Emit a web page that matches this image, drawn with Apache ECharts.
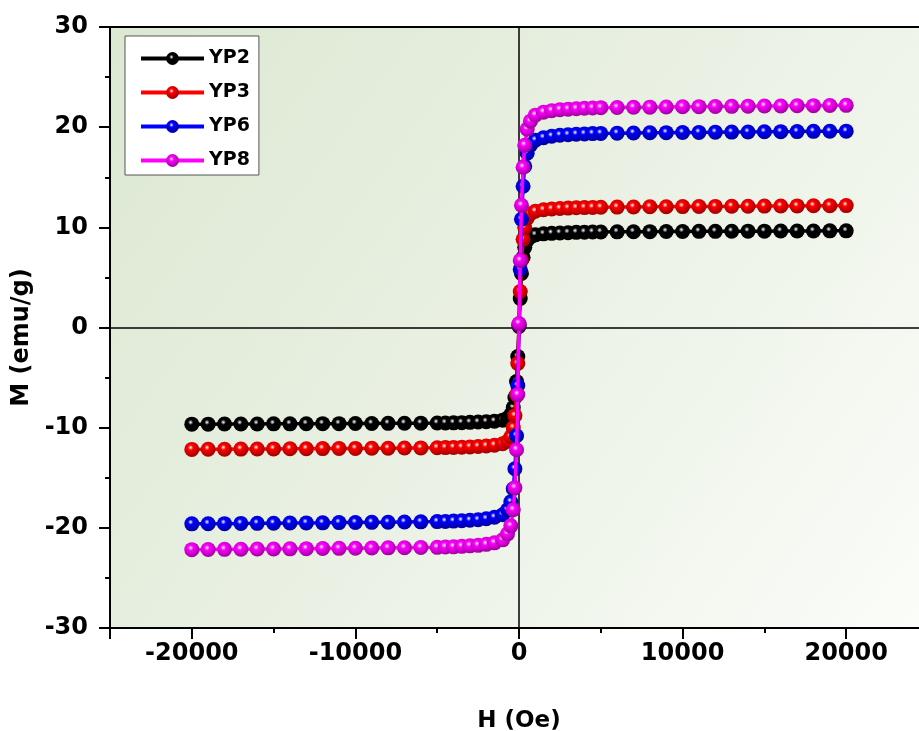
<!DOCTYPE html>
<html lang="en">
<head>
    <meta charset="UTF-8">
    <title>M-H</title>
    <script src="https://cdn.jsdelivr.net/npm/echarts@6/dist/echarts.min.js"></script>
    <style>
        html, body { margin: 0; padding: 0; background: #fff; }
    </style>
</head>
<body>
<div id="main" style="width: 919px;height:731px;"></div>
<script type="text/javascript">
    // field H (Oe), shared by all samples
    var H = [
        -20000, -19000, -18000, -17000, -16000, -15000, -14000, -13000, -12000, -11000,
        -10000, -9000, -8000, -7000, -6000, -5000, -4500, -4000, -3500, -3000,
        -2500, -2000, -1500, -1000, -700, -500, -350, -250, -150, -75,
        0,
        75, 150, 250, 350, 500, 700, 1000, 1500, 2000, 2500,
        3000, 3500, 4000, 4500, 5000, 6000, 7000, 8000, 9000, 10000,
        11000, 12000, 13000, 14000, 15000, 16000, 17000, 18000, 19000, 20000
    ];

    // magnetisation M (emu/g)
    var YP2 = [
        -9.65, -9.65, -9.64, -9.64, -9.63, -9.62, -9.62, -9.61, -9.6, -9.6,
        -9.59, -9.58, -9.57, -9.56, -9.55, -9.54, -9.53, -9.52, -9.5, -9.47,
        -9.44, -9.4, -9.35, -9.25, -9.05, -8.7, -8.0, -7.0, -5.4, -2.9,
        0.1,
        2.9, 5.4, 7.0, 8.0, 8.7, 9.05, 9.25, 9.35, 9.4, 9.44,
        9.47, 9.5, 9.52, 9.53, 9.54, 9.55, 9.56, 9.57, 9.58, 9.59,
        9.6, 9.6, 9.61, 9.62, 9.62, 9.63, 9.64, 9.64, 9.65, 9.65
    ];
    var YP3 = [
        -12.17, -12.16, -12.15, -12.14, -12.13, -12.12, -12.11, -12.1, -12.09, -12.08,
        -12.07, -12.06, -12.05, -12.03, -12.02, -12.0, -11.99, -11.97, -11.95, -11.92,
        -11.88, -11.83, -11.75, -11.6, -11.35, -10.9, -10.0, -8.8, -6.7, -3.6,
        0.2,
        3.6, 6.7, 8.8, 10.0, 10.9, 11.35, 11.6, 11.75, 11.83, 11.88,
        11.92, 11.95, 11.97, 11.99, 12.0, 12.02, 12.03, 12.05, 12.06, 12.07,
        12.08, 12.09, 12.1, 12.11, 12.12, 12.13, 12.14, 12.15, 12.16, 12.17
    ];
    var YP6 = [
        -19.6, -19.59, -19.58, -19.56, -19.55, -19.54, -19.52, -19.51, -19.5, -19.48,
        -19.47, -19.45, -19.44, -19.42, -19.4, -19.38, -19.36, -19.33, -19.3, -19.25,
        -19.2, -19.1, -18.95, -18.7, -18.2, -17.4, -16.1, -14.1, -10.8, -5.8,
        0.3,
        5.8, 10.8, 14.1, 16.1, 17.4, 18.2, 18.7, 18.95, 19.1, 19.2,
        19.25, 19.3, 19.33, 19.36, 19.38, 19.4, 19.42, 19.44, 19.45, 19.47,
        19.48, 19.5, 19.51, 19.52, 19.54, 19.55, 19.56, 19.58, 19.59, 19.6
    ];
    var YP8 = [
        -22.18, -22.17, -22.15, -22.14, -22.12, -22.11, -22.1, -22.08, -22.07, -22.05,
        -22.04, -22.02, -22.0, -21.99, -21.97, -21.95, -21.92, -21.9, -21.85, -21.8,
        -21.75, -21.65, -21.5, -21.2, -20.6, -19.8, -18.2, -16.0, -12.2, -6.7,
        0.4,
        6.7, 12.2, 16.0, 18.2, 19.8, 20.6, 21.2, 21.5, 21.65, 21.75,
        21.8, 21.85, 21.9, 21.92, 21.95, 21.97, 21.99, 22.0, 22.02, 22.04,
        22.05, 22.07, 22.08, 22.1, 22.11, 22.12, 22.14, 22.15, 22.17, 22.18
    ];

    var names = ['YP2', 'YP3', 'YP6', 'YP8'];
    var values = [YP2, YP3, YP6, YP8];
    var colors = ['#000000', '#ff0000', '#0000ff', '#ff00ff'];
    var darks = ['#000000', '#a00000', '#00009a', '#a000a0'];

    var xLabels = [-20000, -10000, 0, 10000, 20000];

    var boldFont = 'DejaVu Sans, Arial, sans-serif';

    function ball(i) {
        return {
            type: 'radial', x: 0.42, y: 0.38, r: 0.62,
            colorStops: [
                {offset: 0, color: '#ffffff'},
                {offset: 0.28, color: colors[i]},
                {offset: 1, color: darks[i]}
            ]
        };
    }

    function plain(v) { return String(v); }

    var series = [];
    for (var i = 0; i < names.length; i++) {
        var pts = [];
        for (var k = 0; k < H.length; k++) {
            pts.push([H[k], values[i][k]]);
        }
        var s = {
            name: names[i],
            type: 'line',
            data: pts,
            symbol: 'circle',
            symbolSize: 15,
            showAllSymbol: true,
            z: 3 + i,
            lineStyle: {color: colors[i], width: 3.5},
            itemStyle: {color: ball(i), borderWidth: 0},
            emphasis: {disabled: true},
            animation: false
        };
        if (i === 0) {
            // zero lines
            s.markLine = {
                silent: true,
                symbol: 'none',
                z: 1,
                label: {show: false},
                lineStyle: {color: '#000', width: 1.5, type: 'solid'},
                data: [{xAxis: 0}, {yAxis: 0}]
            };
        }
        series.push(s);
    }

    var myChart = echarts.init(document.getElementById('main'));
    var option = {
        backgroundColor: '#ffffff',
        animation: false,
        grid: {
            left: 110, top: 27, width: 818, height: 601,
            outerBoundsMode: 'none',
            containLabel: false,
            show: true,
            borderColor: '#000',
            borderWidth: 2,
            backgroundColor: {
                type: 'linear', x: 0, y: 0, x2: 1, y2: 1,
                colorStops: [
                    {offset: 0, color: '#dce8d2'},
                    {offset: 0.5, color: '#eaf1e4'},
                    {offset: 1, color: '#fbfdf9'}
                ]
            }
        },
        legend: {
            left: 125, top: 36,
            orient: 'vertical',
            backgroundColor: '#ffffff',
            borderColor: '#555',
            borderWidth: 1,
            padding: [13, 9, 5, 14],
            itemWidth: 63,
            itemHeight: 16,
            itemGap: 15,
            lineStyle: {width: 4},
            data: names,
            textStyle: {fontFamily: boldFont, fontWeight: 'bold', fontSize: 19, color: '#000'}
        },
        xAxis: {
            type: 'value',
            min: -25000, max: 25000, splitNumber: 5,
            name: 'H (Oe)',
            nameLocation: 'middle',
            nameGap: 82,
            nameTextStyle: {fontFamily: boldFont, fontWeight: 'bold', fontSize: 23, color: '#000'},
            axisLine: {show: true, onZero: false, lineStyle: {color: '#000', width: 2}},
            axisTick: {show: true, inside: false, length: 11, lineStyle: {color: '#000', width: 2}},
            minorTick: {show: true, splitNumber: 2, length: 5, lineStyle: {color: '#000', width: 2}},
            axisLabel: {customValues: xLabels, formatter: plain, margin: 14, fontFamily: boldFont, fontWeight: 'bold', fontSize: 24, color: '#000'},
            splitLine: {show: false}
        },
        yAxis: {
            type: 'value',
            min: -30, max: 30, interval: 10,
            name: 'M (emu/g)',
            nameLocation: 'middle',
            nameGap: 74,
            nameTextStyle: {fontFamily: boldFont, fontWeight: 'bold', fontSize: 24, color: '#000', padding: [0, 20, 0, 0]},
            axisLine: {show: true, onZero: false, lineStyle: {color: '#000', width: 2}},
            axisTick: {show: true, inside: false, length: 11, lineStyle: {color: '#000', width: 2}},
            minorTick: {show: true, splitNumber: 2, length: 5, lineStyle: {color: '#000', width: 2}},
            axisLabel: {margin: 22, formatter: plain, fontFamily: boldFont, fontWeight: 'bold', fontSize: 24, color: '#000'},
            splitLine: {show: false}
        },
        series: series
    };
    myChart.setOption(option);
</script>
</body>
</html>
